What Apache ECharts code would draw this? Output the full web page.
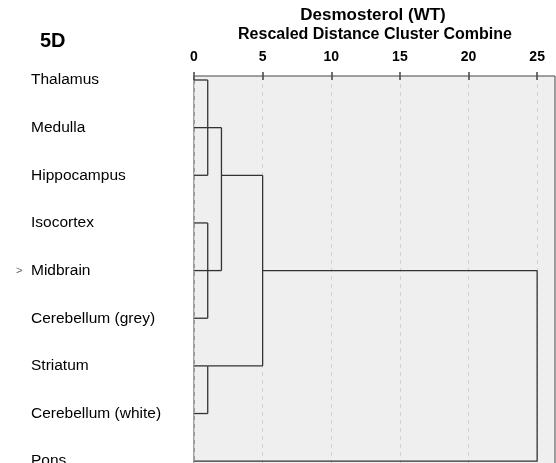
<!DOCTYPE html>
<html>
<head>
<meta charset="utf-8">
<script src="https://cdn.jsdelivr.net/npm/echarts@6/dist/echarts.min.js"></script>
<style>
  html, body { margin: 0; padding: 0; background: #fff; }
  #chart { width: 556px; height: 463px; }
</style>
</head>
<body>
<div id="chart"></div>
<script>
// leaves, top to bottom
const leaves = ['Thalamus', 'Medulla', 'Hippocampus', 'Isocortex', 'Midbrain',
  'Cerebellum (grey)', 'Striatum', 'Cerebellum (white)', 'Pons'];
// merge steps (children: leaf index or earlier merge name)
const mergeNames = ['A', 'B', 'C', 'D', 'E', 'F'];
const mergeChildren = [[0, 1, 2], [3, 4, 5], [6, 7], ['A', 'B'], ['D', 'C'], ['E', 8]];
const mergeHeights = [1, 1, 1, 2, 5, 25];
const xTicks = [0, 5, 10, 15, 20, 25];
const markedLeaf = 4; // Midbrain gets the small ">" marker

const FONT = "'Liberation Sans', Arial, sans-serif";

// build dendrogram segments [x1, y1, x2, y2] in (distance, row) space
const nodes = {};
leaves.forEach((name, i) => { nodes[i] = { row: i, height: 0 }; });
const segments = [];
mergeNames.forEach((name, k) => {
  const kids = mergeChildren[k].map(c => nodes[c]);
  const h = mergeHeights[k];
  const rows = kids.map(n => n.row);
  const lo = Math.min(...rows), hi = Math.max(...rows);
  kids.forEach(n => segments.push([n.height, n.row, h, n.row]));
  segments.push([h, lo, h, hi]);
  nodes[name] = { row: Math.floor((lo + hi) / 2), height: h };
});

const chart = echarts.init(document.getElementById('chart'));

const option = {
  animation: false,
  backgroundColor: '#fff',
  title: [
    {
      text: '5D', left: 40, top: 31, padding: 0,
      textStyle: { fontFamily: FONT, fontSize: 20, fontWeight: 'bold', color: '#000' }
    },
    {
      text: 'Desmosterol (WT)', left: 373, top: 7, padding: 0, textAlign: 'center',
      textStyle: { fontFamily: FONT, fontSize: 17, fontWeight: 'bold', color: '#000' }
    },
    {
      text: 'Rescaled Distance Cluster Combine', left: 375, top: 27, padding: 0, textAlign: 'center',
      textStyle: { fontFamily: FONT, fontSize: 16, fontWeight: 'bold', color: '#000' }
    }
  ],
  grid: {
    left: 194, top: 76, width: 361, height: 405,
    outerBoundsMode: 'none',
    containLabel: false,
    show: true, backgroundColor: '#efefef', borderColor: '#444', borderWidth: 1
  },
  xAxis: {
    type: 'value',
    position: 'top',
    min: 0,
    max: 26.3,
    interval: 5,
    axisLine: { show: false },
    axisTick: {
      show: true, inside: false, length: 8, customValues: xTicks,
      lineStyle: { color: '#444', width: 1.5 }
    },
    axisLabel: {
      margin: 12, fontFamily: FONT, fontSize: 14, fontWeight: 'bold', color: '#000',
      customValues: xTicks
    },
    splitLine: { show: true, lineStyle: { color: '#d2d2d2', type: [4, 4], width: 1 } }
  },
  yAxis: [
    {
      type: 'value',
      inverse: true,
      min: -0.084,
      max: 8.416,
      axisLine: { show: false },
      axisTick: { show: false },
      splitLine: { show: false },
      axisLabel: {
        customValues: leaves.map((d, i) => i),
        formatter: v => leaves[v],
        align: 'left', margin: 163,
        fontFamily: FONT, fontSize: 15.5, color: '#000'
      }
    },
    {
      type: 'value',
      position: 'left',
      inverse: true,
      min: -0.084,
      max: 8.416,
      axisLine: { show: false },
      axisTick: { show: false },
      splitLine: { show: false },
      axisLabel: {
        customValues: [markedLeaf],
        formatter: () => '>',
        align: 'left', margin: 178,
        fontFamily: FONT, fontSize: 11, color: '#666'
      }
    }
  ],
  series: [
    {
      type: 'custom',
      data: segments,
      encode: { x: [0, 2], y: [1, 3] },
      renderItem: (params, api) => {
        const p1 = api.coord([api.value(0), api.value(1)]);
        const p2 = api.coord([api.value(2), api.value(3)]);
        return {
          type: 'line',
          shape: { x1: p1[0], y1: p1[1], x2: p2[0], y2: p2[1] },
          style: { stroke: '#333', lineWidth: 1.3 }
        };
      }
    }
  ]
};

chart.setOption(option);
</script>
</body>
</html>
